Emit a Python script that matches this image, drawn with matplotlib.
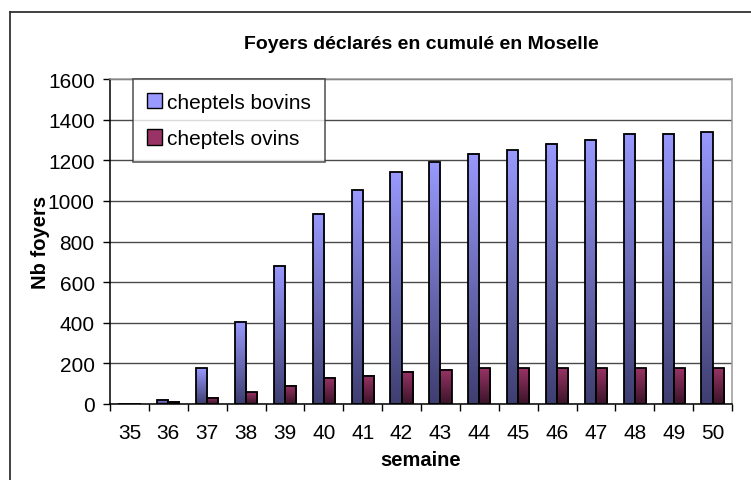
import numpy as np
import matplotlib
matplotlib.use("Agg")
import matplotlib.pyplot as plt
from matplotlib.colors import LinearSegmentedColormap
from matplotlib.patches import Patch
from matplotlib.lines import Line2D

plt.rcParams['font.family'] = ['Liberation Sans', 'DejaVu Sans']

weeks = ['35', '36', '37', '38', '39', '40', '41', '42', '43', '44', '45', '46', '47', '48', '49', '50']
bovins = [0, 21, 177, 404, 681, 937, 1053, 1140, 1190, 1231, 1250, 1281, 1300, 1331, 1331, 1339]
ovins = [0, 11, 31, 59, 89, 130, 138, 159, 169, 177, 177, 177, 177, 177, 177, 177]

series = [
    ("cheptels bovins", bovins, "#9999FF", "#3E3E70"),
    ("cheptels ovins", ovins, "#993366", "#3A1428"),
]

fig = plt.figure(figsize=(7.51, 4.81), dpi=100)
ax = fig.add_axes([110 / 751, 1 - 405 / 481, 622 / 751, 325 / 481])

# outer frame of the chart object (left and top only)
fig.add_artist(Line2D([10 / 751, 10 / 751], [0, 1 - 13 / 481], transform=fig.transFigure, color="#333333", lw=1.3))
fig.add_artist(Line2D([10 / 751, 1], [1 - 13 / 481, 1 - 13 / 481], transform=fig.transFigure, color="#333333", lw=1.3))

x = np.arange(len(weeks))
w = 0.285
grad = np.linspace(0, 1, 256).reshape(-1, 1)

handles = []
for i, (label, vals, light, dark) in enumerate(series):
    cmap = LinearSegmentedColormap.from_list(label, [dark, light])
    offs = (i - 0.5) * w
    for xi, v in zip(x, vals):
        if v <= 0:
            continue
        ax.imshow(grad, extent=[xi + offs - w / 2, xi + offs + w / 2, 0, v],
                  origin="lower", aspect="auto", cmap=cmap, zorder=2, interpolation="bilinear")
    ax.bar(x + offs, vals, width=w, facecolor="none", edgecolor="black", linewidth=1.3, zorder=3)
    handles.append(Patch(facecolor=light, edgecolor="black", label=label))

ax.set_xlim(-0.5, len(weeks) - 0.5)
ax.set_ylim(0, 1600)
ax.set_yticks(range(0, 1601, 200))
ax.yaxis.grid(True, color="#4a4a4a", lw=1.0, zorder=0)
ax.set_axisbelow(True)

ax.set_xticks(np.arange(-0.5, len(weeks), 1.0))
ax.set_xticklabels([])
ax.set_xticks(x, minor=True)
ax.set_xticklabels(weeks, minor=True)
ax.tick_params(axis="x", which="major", direction="out", length=5, width=1, color="black")
ax.tick_params(axis="x", which="minor", length=0, pad=14, labelsize=15)
ax.tick_params(axis="y", direction="out", length=5, width=1, labelsize=15, pad=6)

for s in ["left", "bottom"]:
    ax.spines[s].set_color("black")
    ax.spines[s].set_linewidth(1.1)
for s in ["top", "right"]:
    ax.spines[s].set_color("#999999")
    ax.spines[s].set_linewidth(1.1)

fig.text(421 / 751, 1 - 45 / 481, "Foyers déclarés en cumulé en Moselle", ha="center", va="center",
         fontsize=14, fontweight="bold")
fig.text(40 / 751, 1 - 242 / 481, "Nb foyers", rotation=90, ha="center", va="center",
         fontsize=14.5, fontweight="bold")
fig.text(421 / 751, 1 - 461 / 481, "semaine", ha="center", va="center", fontsize=14.5, fontweight="bold")

leg = ax.legend(handles=handles, loc="upper left", bbox_to_anchor=(0.037, 1.0), borderaxespad=0,
                fontsize=15, frameon=True, fancybox=False, handlelength=0.75, handleheight=0.75,
                handletextpad=0.25, labelspacing=0.85, borderpad=0.65)
leg.get_frame().set_edgecolor("#333333")
leg.get_frame().set_linewidth(1.2)

fig.savefig("out.png", dpi=100)
